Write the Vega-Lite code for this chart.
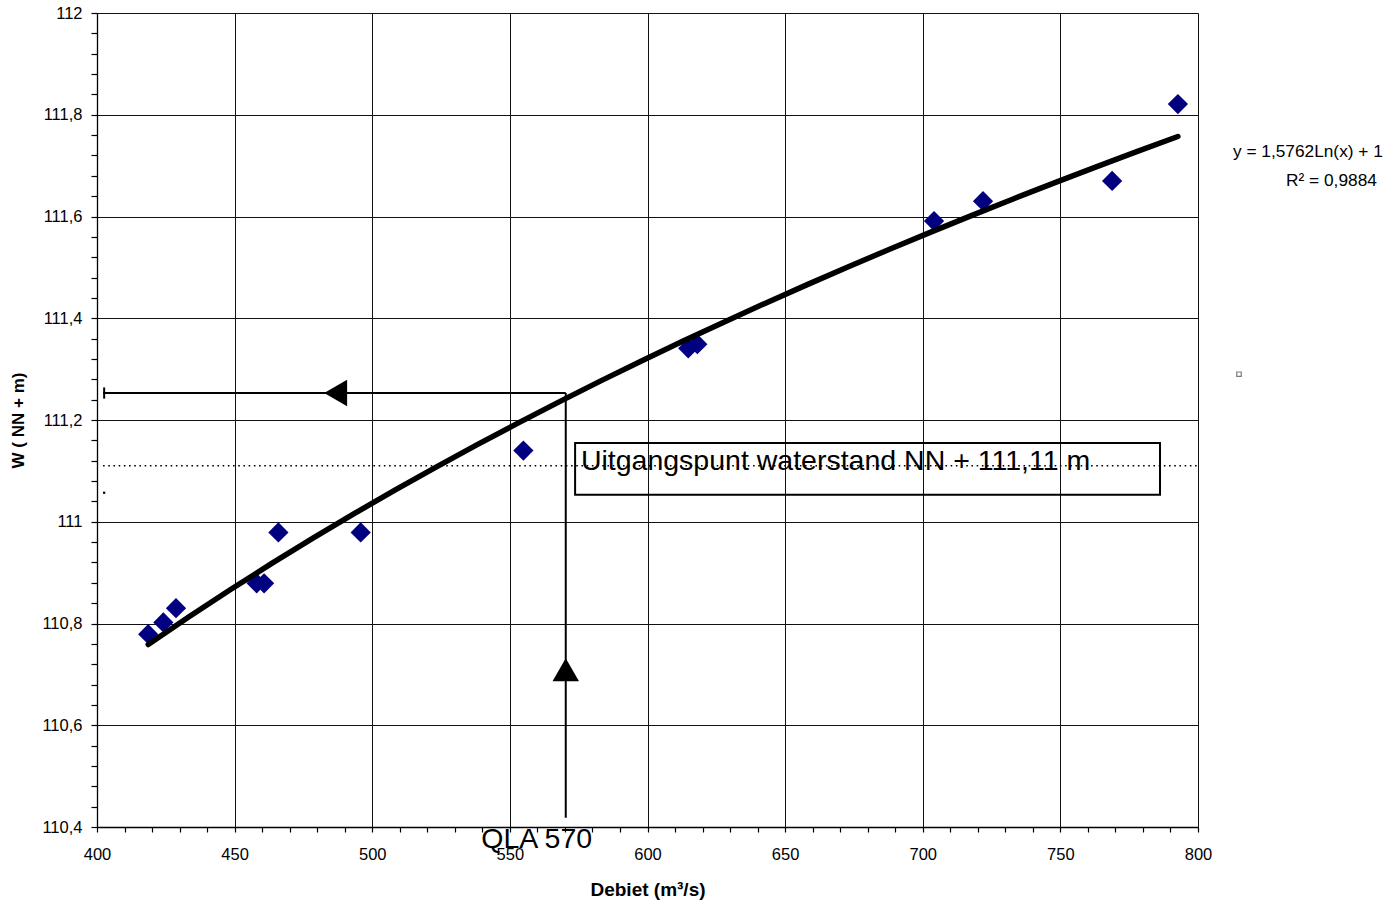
{
  "$schema": "https://vega.github.io/schema/vega-lite/v6.json",
  "width": 1101,
  "height": 814,
  "autosize": {"type": "none"},
  "padding": {"left": 97, "top": 13, "right": 186, "bottom": 79},
  "background": "white",
  "config": {
    "view": {"stroke": null},
    "font": "Liberation Sans",
    "text": {"font": "Liberation Sans", "color": "black"}
  },
  "datasets": {
    "meet": [
      {"q": 418.6, "w": 110.779},
      {"q": 424.1, "w": 110.802},
      {"q": 428.7, "w": 110.830},
      {"q": 458.0, "w": 110.879},
      {"q": 460.7, "w": 110.879},
      {"q": 465.9, "w": 110.979},
      {"q": 495.8, "w": 110.979},
      {"q": 554.9, "w": 111.140},
      {"q": 614.8, "w": 111.341},
      {"q": 618.1, "w": 111.349},
      {"q": 704.1, "w": 111.591},
      {"q": 721.9, "w": 111.630},
      {"q": 768.8, "w": 111.670},
      {"q": 792.7, "w": 111.821}
    ],
    "lijnen": [
      {"q": 402.2, "q2": 570.3, "w": 111.253, "w2": 111.253},
      {"q": 570.3, "q2": 570.3, "w": 111.253, "w2": 110.418},
      {"q": 402.6, "q2": 402.6, "w": 111.264, "w2": 111.242}
    ],
    "pijlen": [
      {"q": 486.7, "w": 111.253, "richting": "links"},
      {"q": 570.3, "w": 110.709, "richting": "omhoog"}
    ],
    "teksten": [
      {"id": "uitgang", "q": 575.8, "w": 111.1017, "label": "Uitgangspunt waterstand NN + 111,11 m"},
      {"id": "qla", "q": 539.6, "w": 110.3587, "label": "QLA 570"},
      {"id": "eq", "q": 812.7, "w": 111.717, "label": "y = 1,5762Ln(x) + 1"},
      {"id": "r2", "q": 832.0, "w": 111.660, "label": "R² = 0,9884"}
    ]
  },
  "resolve": {"axis": {"x": "independent", "y": "independent"}},
  "layer": [
    {
      "data": {"name": "meet"},
      "mark": {"type": "point", "shape": "diamond", "filled": true, "color": "#000080", "size": 410, "opacity": 1, "strokeWidth": 0},
      "encoding": {
        "x": {
          "field": "q", "type": "quantitative",
          "scale": {"domain": [400, 800], "nice": false, "zero": false},
          "axis": {
            "orient": "bottom",
            "values": [400, 450, 500, 550, 600, 650, 700, 750, 800],
            "grid": true, "gridColor": "#111", "gridWidth": 1,
            "domainColor": "black", "domainWidth": 1.3,
            "tickColor": "black", "tickSize": 5, "tickWidth": 1.2,
            "labelFont": "Liberation Sans", "labelFontSize": 16.5, "labelColor": "black", "labelPadding": 14,
            "labelFlush": false, "labelOverlap": false,
            "title": "Debiet (m³/s)", "titleFont": "Liberation Sans", "titleFontSize": 19, "titleFontWeight": "bold",
            "titleColor": "black", "titleBaseline": "alphabetic", "titleY": 68
          }
        },
        "y": {
          "field": "w", "type": "quantitative",
          "scale": {"domain": [110.4, 112], "nice": false, "zero": false},
          "axis": {
            "orient": "left",
            "values": [110.4, 110.6, 110.8, 111, 111.2, 111.4, 111.6, 111.8, 112],
            "labelExpr": "replace(format(datum.value, '.1~f'), '.', ',')",
            "grid": true, "gridColor": "#111", "gridWidth": 1,
            "domainColor": "black", "domainWidth": 1.3,
            "tickColor": "black", "tickSize": 6, "tickWidth": 1.2,
            "labelFont": "Liberation Sans", "labelFontSize": 16.5, "labelColor": "black", "labelPadding": 9,
            "labelFlush": false, "labelOverlap": false,
            "title": "W ( NN + m)", "titleFont": "Liberation Sans", "titleFontSize": 17, "titleFontWeight": "bold",
            "titleColor": "black", "titleBaseline": "alphabetic", "titleX": -74, "titleAngle": -90
          }
        }
      }
    },
    {
      "data": {"name": "meet"},
      "transform": [{"regression": "w", "on": "q", "method": "log"}],
      "mark": {"type": "line", "color": "black", "strokeWidth": 5.5, "strokeCap": "round"},
      "encoding": {
        "x": {
          "field": "q", "type": "quantitative",
          "axis": {
            "orient": "bottom",
            "values": [410, 420, 430, 440, 460, 470, 480, 490, 510, 520, 530, 540, 560, 570, 580, 590, 610, 620, 630, 640, 660, 670, 680, 690, 710, 720, 730, 740, 760, 770, 780, 790],
            "labels": false, "grid": false, "domain": false, "title": null,
            "tickColor": "black", "tickSize": 5, "tickWidth": 1.2
          }
        },
        "y": {
          "field": "w", "type": "quantitative",
          "axis": {
            "orient": "left",
            "values": [110.44, 110.48, 110.52, 110.56, 110.64, 110.68, 110.72, 110.76, 110.84, 110.88, 110.92, 110.96, 111.04, 111.08, 111.12, 111.16, 111.24, 111.28, 111.32, 111.36, 111.44, 111.48, 111.52, 111.56, 111.64, 111.68, 111.72, 111.76, 111.84, 111.88, 111.92, 111.96],
            "labels": false, "grid": false, "domain": false, "title": null,
            "tickColor": "black", "tickSize": 6, "tickWidth": 1.2
          }
        }
      }
    },
    {
      "data": {"values": [{"q": 402.2, "q2": 800, "w": 111.11}]},
      "mark": {"type": "rule", "color": "black", "strokeWidth": 1.6, "strokeDash": [1.6, 3.6]},
      "encoding": {
        "x": {"field": "q", "type": "quantitative", "axis": null},
        "x2": {"field": "q2"},
        "y": {"field": "w", "type": "quantitative", "axis": null}
      }
    },
    {
      "data": {"name": "lijnen"},
      "mark": {"type": "rule", "color": "black", "strokeWidth": 2},
      "encoding": {
        "x": {"field": "q", "type": "quantitative", "axis": null},
        "x2": {"field": "q2"},
        "y": {"field": "w", "type": "quantitative", "axis": null},
        "y2": {"field": "w2"}
      }
    },
    {
      "data": {"name": "pijlen"},
      "transform": [{"filter": "datum.richting === 'links'"}],
      "mark": {"type": "point", "shape": "triangle-left", "filled": true, "color": "black", "size": 700, "opacity": 1, "strokeWidth": 0},
      "encoding": {
        "x": {"field": "q", "type": "quantitative", "axis": null},
        "y": {"field": "w", "type": "quantitative", "axis": null}
      }
    },
    {
      "data": {"name": "pijlen"},
      "transform": [{"filter": "datum.richting === 'omhoog'"}],
      "mark": {"type": "point", "shape": "triangle-up", "filled": true, "color": "black", "size": 700, "opacity": 1, "strokeWidth": 0},
      "encoding": {
        "x": {"field": "q", "type": "quantitative", "axis": null},
        "y": {"field": "w", "type": "quantitative", "axis": null}
      }
    },
    {
      "data": {"values": [{"q": 573.7, "q2": 786.2, "w": 111.155, "w2": 111.053}]},
      "mark": {"type": "rect", "fill": null, "fillOpacity": 0, "stroke": "black", "strokeWidth": 2},
      "encoding": {
        "x": {"field": "q", "type": "quantitative", "axis": null},
        "x2": {"field": "q2"},
        "y": {"field": "w", "type": "quantitative", "axis": null},
        "y2": {"field": "w2"}
      }
    },
    {
      "data": {"values": [{"q": 814.9, "w": 111.29}]},
      "mark": {"type": "point", "shape": "square", "filled": false, "color": "#444", "size": 20, "strokeWidth": 1.2},
      "encoding": {
        "x": {"field": "q", "type": "quantitative", "axis": null},
        "y": {"field": "w", "type": "quantitative", "axis": null}
      }
    },
    {
      "data": {"values": [{"q": 402.6, "w": 111.057}]},
      "mark": {"type": "point", "shape": "square", "filled": true, "color": "black", "size": 5, "opacity": 1},
      "encoding": {
        "x": {"field": "q", "type": "quantitative", "axis": null},
        "y": {"field": "w", "type": "quantitative", "axis": null}
      }
    },
    {
      "data": {"name": "teksten"},
      "transform": [{"filter": "datum.id === 'uitgang'"}],
      "mark": {"type": "text", "align": "left", "baseline": "alphabetic", "fontSize": 28.5, "font": "Liberation Sans", "color": "black"},
      "encoding": {
        "x": {"field": "q", "type": "quantitative", "axis": null},
        "y": {"field": "w", "type": "quantitative", "axis": null},
        "text": {"field": "label"}
      }
    },
    {
      "data": {"name": "teksten"},
      "transform": [{"filter": "datum.id === 'qla'"}],
      "mark": {"type": "text", "align": "left", "baseline": "alphabetic", "fontSize": 28.5, "font": "Liberation Sans", "color": "black"},
      "encoding": {
        "x": {"field": "q", "type": "quantitative", "axis": null},
        "y": {"field": "w", "type": "quantitative", "axis": null},
        "text": {"field": "label"}
      }
    },
    {
      "data": {"name": "teksten"},
      "transform": [{"filter": "datum.id === 'eq' || datum.id === 'r2'"}],
      "mark": {"type": "text", "align": "left", "baseline": "alphabetic", "fontSize": 17.3, "font": "Liberation Sans", "color": "black"},
      "encoding": {
        "x": {"field": "q", "type": "quantitative", "axis": null},
        "y": {"field": "w", "type": "quantitative", "axis": null},
        "text": {"field": "label"}
      }
    }
  ]
}
